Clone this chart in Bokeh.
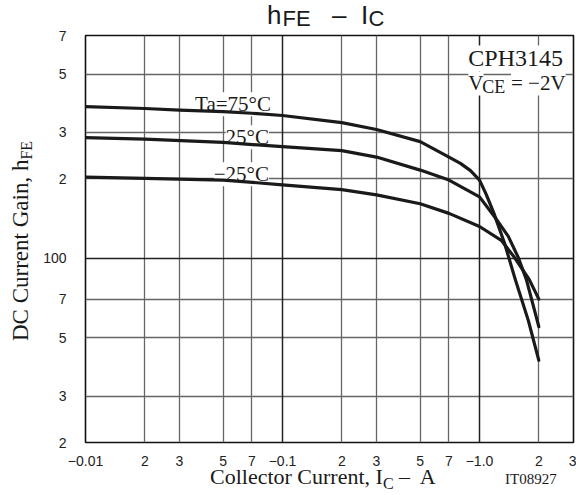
import math
from bokeh.plotting import figure
from bokeh.models import Range1d, FixedTicker, Label, Grid, Div
from bokeh.layouts import column, row
from bokeh.embed import file_html
from bokeh.resources import INLINE

# ---- data (I_C in A, hFE) ----
ic_75 = [0.01, 0.02, 0.03, 0.05, 0.07, 0.1, 0.2, 0.3, 0.5, 0.7, 0.8, 0.9, 1.0, 1.08, 1.18, 1.34, 1.52, 1.77, 2.0]
hfe_75 = [376, 370, 365, 360, 355, 348, 327, 308, 277, 242, 229, 215, 198, 175, 149, 114, 83, 58, 41]

ic_25 = [0.01, 0.02, 0.05, 0.1, 0.2, 0.3, 0.5, 0.7, 1.0, 1.19, 1.4, 1.57, 1.73, 2.0]
hfe_25 = [287, 283, 275, 265, 256, 242, 216, 198, 171, 144, 121, 101, 83, 55]

ic_m25 = [0.01, 0.02, 0.05, 0.1, 0.2, 0.3, 0.5, 0.7, 1.0, 1.29, 1.5, 1.79, 2.0]
hfe_m25 = [203, 201, 198, 190, 182, 174, 161, 148, 132, 117, 101, 83, 70]

x_ticks = [0.01, 0.02, 0.03, 0.05, 0.07, 0.1, 0.2, 0.3, 0.5, 0.7, 1.0, 2.0, 3.0]
x_tick_labels = ["\u22120.01", "2", "3", "5", "7", "\u22120.1", "2", "3", "5", "7", "\u22121.0", "2", "3"]
y_ticks = [20, 30, 50, 70, 100, 200, 300, 500, 700]
y_tick_labels = ["2", "3", "5", "7", "100", "2", "3", "5", "7"]

SANS = "Liberation Sans"
SERIF = "Liberation Serif"
INK = "#1a1a1a"

# ---- page geometry (pixels) ----
PAGE_W = 576
TITLE_H = 27
YLAB_W = 40
FIG_H = 441
XLAB_H = 26
FL, FR, FT, FB = 81, 573, 35, 443          # frame edges on the page
FIG_W = PAGE_W - YLAB_W

DX = (FR - FL) / math.log10(3 / 0.01)
DY = (FB - FT) / math.log10(700 / 20)


def X(px):
    return 0.01 * 10 ** ((px - FL) / DX)


def Y(py):
    return 20 * 10 ** ((FB - py) / DY)


p = figure(width=FIG_W, height=FIG_H, x_axis_type="log", y_axis_type="log",
           x_range=Range1d(0.01, 3), y_range=Range1d(20, 700),
           output_backend="svg", toolbar_location=None, title=None,
           min_border_left=FL - YLAB_W, min_border_right=YLAB_W + FIG_W - FR,
           min_border_top=FT - TITLE_H, min_border_bottom=TITLE_H + FIG_H - FB)
p.background_fill_color = "white"
p.border_fill_color = "white"
p.outline_line_color = "#111111"
p.outline_line_width = 1.6

for ax, ticks, labels in ((p.xaxis, x_ticks, x_tick_labels), (p.yaxis, y_ticks, y_tick_labels)):
    ax.ticker = FixedTicker(ticks=ticks)
    ax.major_label_overrides = {t: s for t, s in zip(ticks, labels)}
    ax.major_tick_line_color = None
    ax.minor_tick_line_color = None
    ax.axis_line_color = None
    ax.major_label_text_font = SANS
    ax.major_label_text_font_size = "14px"
    ax.major_label_text_color = "#222222"
p.xaxis.major_label_standoff = 7
p.yaxis.major_label_standoff = 13

p.xgrid.ticker = FixedTicker(ticks=[t for t in x_ticks if t not in (0.01, 0.1, 1.0, 3.0)])
p.ygrid.ticker = FixedTicker(ticks=[t for t in y_ticks if t not in (20, 100, 700)])
for g in (p.xgrid, p.ygrid):
    g.grid_line_color = "#666666"
    g.grid_line_width = 1.3
    g.minor_grid_line_color = None
p.add_layout(Grid(dimension=0, ticker=FixedTicker(ticks=[0.1, 1.0]),
                  grid_line_color="#222222", grid_line_width=1.5))
p.add_layout(Grid(dimension=1, ticker=FixedTicker(ticks=[100]),
                  grid_line_color="#222222", grid_line_width=1.5))

for xs, ys in ((ic_75, hfe_75), (ic_25, hfe_25), (ic_m25, hfe_m25)):
    p.line(xs, ys, line_color=INK, line_width=3.2, line_join="round", line_cap="round")


def lab(px, py, text, size, font=SERIF, align="left", bg=None, level="annotation"):
    kw = {}
    if bg:
        kw["background_fill_color"] = bg
    p.add_layout(Label(x=X(px), y=Y(py), text=text, text_font=font,
                       text_font_size=f"{size}px", text_color=INK,
                       text_align=align, text_baseline="alphabetic",
                       level=level, **kw))


# device / condition box
lab(467, 58, "CPH3145", 24, bg="white")
lab(467, 83, "V", 21, bg="white")
lab(481, 87, "CE", 18, bg="white")
lab(510, 83, "= \u22122V", 21, bg="white")

# curve labels (under the curves, over the grid)
lab(268, 104, "Ta=75\u00b0C", 21, align="right", bg="white", level="underlay")
lab(266, 137, "25\u00b0C", 21, align="right", bg="white", level="underlay")
lab(266, 174, "\u221225\u00b0C", 21, align="right", bg="white", level="underlay")

# ---- texts outside the plot frame, as HTML ----
METRICS = {SANS: (0.905, 0.212), SERIF: (0.891, 0.216)}


def top_for(base, size, family):
    a, d = METRICS[family]
    return base - (size * (1 - (a + d)) / 2 + a * size)


def piece(x, base, inner, size, family, extra=""):
    t = top_for(base, size, family)
    return (f'<span style="position:absolute;left:{x:.1f}px;top:{t:.1f}px;'
            f'font-family:\'{family}\';font-size:{size}px;line-height:1;'
            f'white-space:nowrap;color:{INK};{extra}">{inner}</span>')


def box(w, h, inner):
    return f'<div style="position:relative;width:{w}px;height:{h}px;overflow:visible;">{inner}</div>'


# title  h_FE - I_C  (title div starts at page y=0)
title_html = box(PAGE_W, TITLE_H,
                 piece(267, 24, "h", 26, SANS)
                 + piece(282.5, 27, "FE", 22, SANS)
                 + piece(332, 24, "\u2013", 26, SANS)
                 + piece(361, 24, "I", 26, SANS)
                 + piece(368.5, 27, "C", 22, SANS))

# rotated y-axis label (div starts at page y=TITLE_H)
YL_SIZE = 23
yl_base_x = 28
yl_start = 341 - TITLE_H
yl_left = yl_base_x - (YL_SIZE * (1 - sum(METRICS[SERIF])) / 2 + METRICS[SERIF][0] * YL_SIZE)
ylab_html = box(YLAB_W, FIG_H,
                f'<span style="position:absolute;left:{yl_left:.1f}px;top:{yl_start}px;'
                f'transform-origin:0 0;transform:rotate(-90deg);'
                f'font-family:\'{SERIF}\';font-size:{YL_SIZE}px;line-height:1;white-space:nowrap;color:{INK}">'
                f'DC Current Gain, h<span style="font-size:16px;vertical-align:-4px">FE</span></span>')

# x-axis label (div starts at page y = TITLE_H + FIG_H)
XO = TITLE_H + FIG_H
xlab_html = box(PAGE_W, XLAB_H,
                piece(210, 484 - XO,
                      'Collector Current, I<span style="font-size:16px;vertical-align:-5px">C</span>'
                      '&nbsp;\u2013&nbsp; A', 22, SERIF)
                + piece(505, 485 - XO, "IT08927", 15, SERIF))

title_div = Div(text=title_html, width=PAGE_W, height=TITLE_H, margin=0)
ylab_div = Div(text=ylab_html, width=YLAB_W, height=FIG_H, margin=0)
xlab_div = Div(text=xlab_html, width=PAGE_W, height=XLAB_H, margin=0)

layout = column(title_div, row(ylab_div, p, spacing=0), xlab_div, spacing=0)

open("out.html", "w").write(file_html(layout, INLINE))
